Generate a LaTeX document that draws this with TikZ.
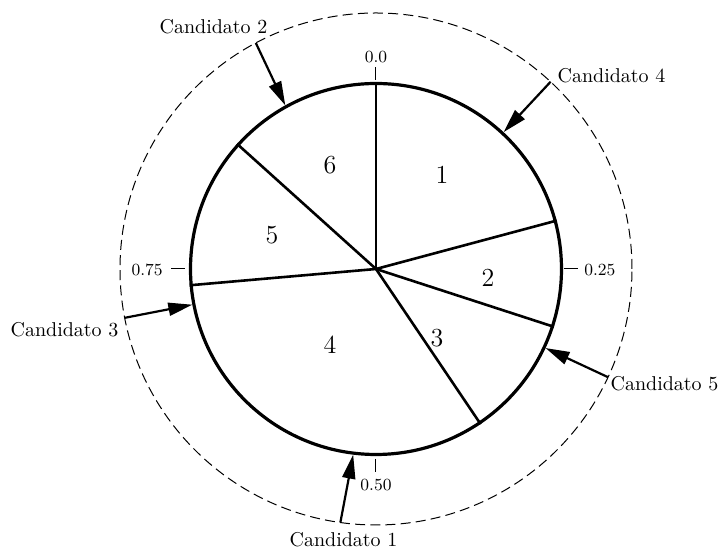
\documentclass[tikz,border=0pt]{standalone}
\usetikzlibrary{arrows.meta}
\begin{document}
\begin{tikzpicture}[x=0.5pt,y=0.5pt,
  wheelring/.style={circle,draw,line width=1.6pt,minimum size=185.5pt,inner sep=0pt},
  guidering/.style={circle,draw,line width=0.5pt,dash pattern=on 5pt off 2.6pt,minimum size=256pt,inner sep=0pt,outer sep=0pt},
  spoke/.style={line width=1.3pt},
  pick/.style={-{Triangle[length=12pt,width=6.5pt]},line width=1.1pt},
  tickline/.style={line width=0.5pt},
  cand/.style={font=\fontsize{10}{12}\selectfont,inner sep=0pt},
  ticklabel/.style={font=\fontsize{8.5}{10}\selectfont,inner sep=0pt},
  segnum/.style={font=\fontsize{13}{15}\selectfont,inner sep=0pt}]
\useasboundingbox (-376,-280) rectangle (344,269);
\node[guidering] (outer) at (0,0) {};
\node[wheelring] (wheel) at (0,0) {};
% spokes
\draw[spoke] (wheel.center) -- (wheel.90);
\draw[spoke] (wheel.center) -- (wheel.15);
\draw[spoke] (wheel.center) -- (wheel.-18);
\draw[spoke] (wheel.center) -- (wheel.-56);
\draw[spoke] (wheel.center) -- (wheel.185);
\draw[spoke] (wheel.center) -- (wheel.138);
% segment numbers
\node[segnum] (n1) at (66,94) {1};
\node[segnum] (n2) at (112,-9) {2};
\node[segnum] (n3) at (61,-69) {3};
\node[segnum] (n4) at (-46,-76) {4};
\node[segnum] (n5) at (-104,34) {5};
\node[segnum] (n6) at (-46,104) {6};
% ticks
\draw[tickline] (90:189) -- (90:202);
\draw[tickline] (0:188) -- (0:202);
\draw[tickline] (270:190) -- (270:203);
\draw[tickline] (180:191) -- (180:205);
\node[ticklabel] (t0) at (0,212) {0.0};
\node[ticklabel,anchor=west] (t25) at (208,-1) {0.25};
\node[ticklabel] (t50) at (0,-216) {0.50};
\node[ticklabel,anchor=east] (t75) at (-213,-1) {0.75};
% candidate arrows
\draw[pick] (outer.118) -- (wheel.119);
\draw[pick] (outer.47) -- (wheel.47);
\draw[pick] (outer.191) -- (wheel.191);
\draw[pick] (outer.-25) -- (wheel.-25);
\draw[pick] (outer.262) -- (wheel.263);
% candidate labels
\node[cand] (c2) at (-162.5,242.3) {Candidato 2};
\node[cand] (c4) at (235.5,193) {Candidato 4};
\node[cand] (c3) at (-311.5,-61) {Candidato 3};
\node[cand] (c5) at (288.5,-115) {Candidato 5};
\node[cand] (c1) at (-32.5,-271) {Candidato 1};
\end{tikzpicture}
\end{document}
